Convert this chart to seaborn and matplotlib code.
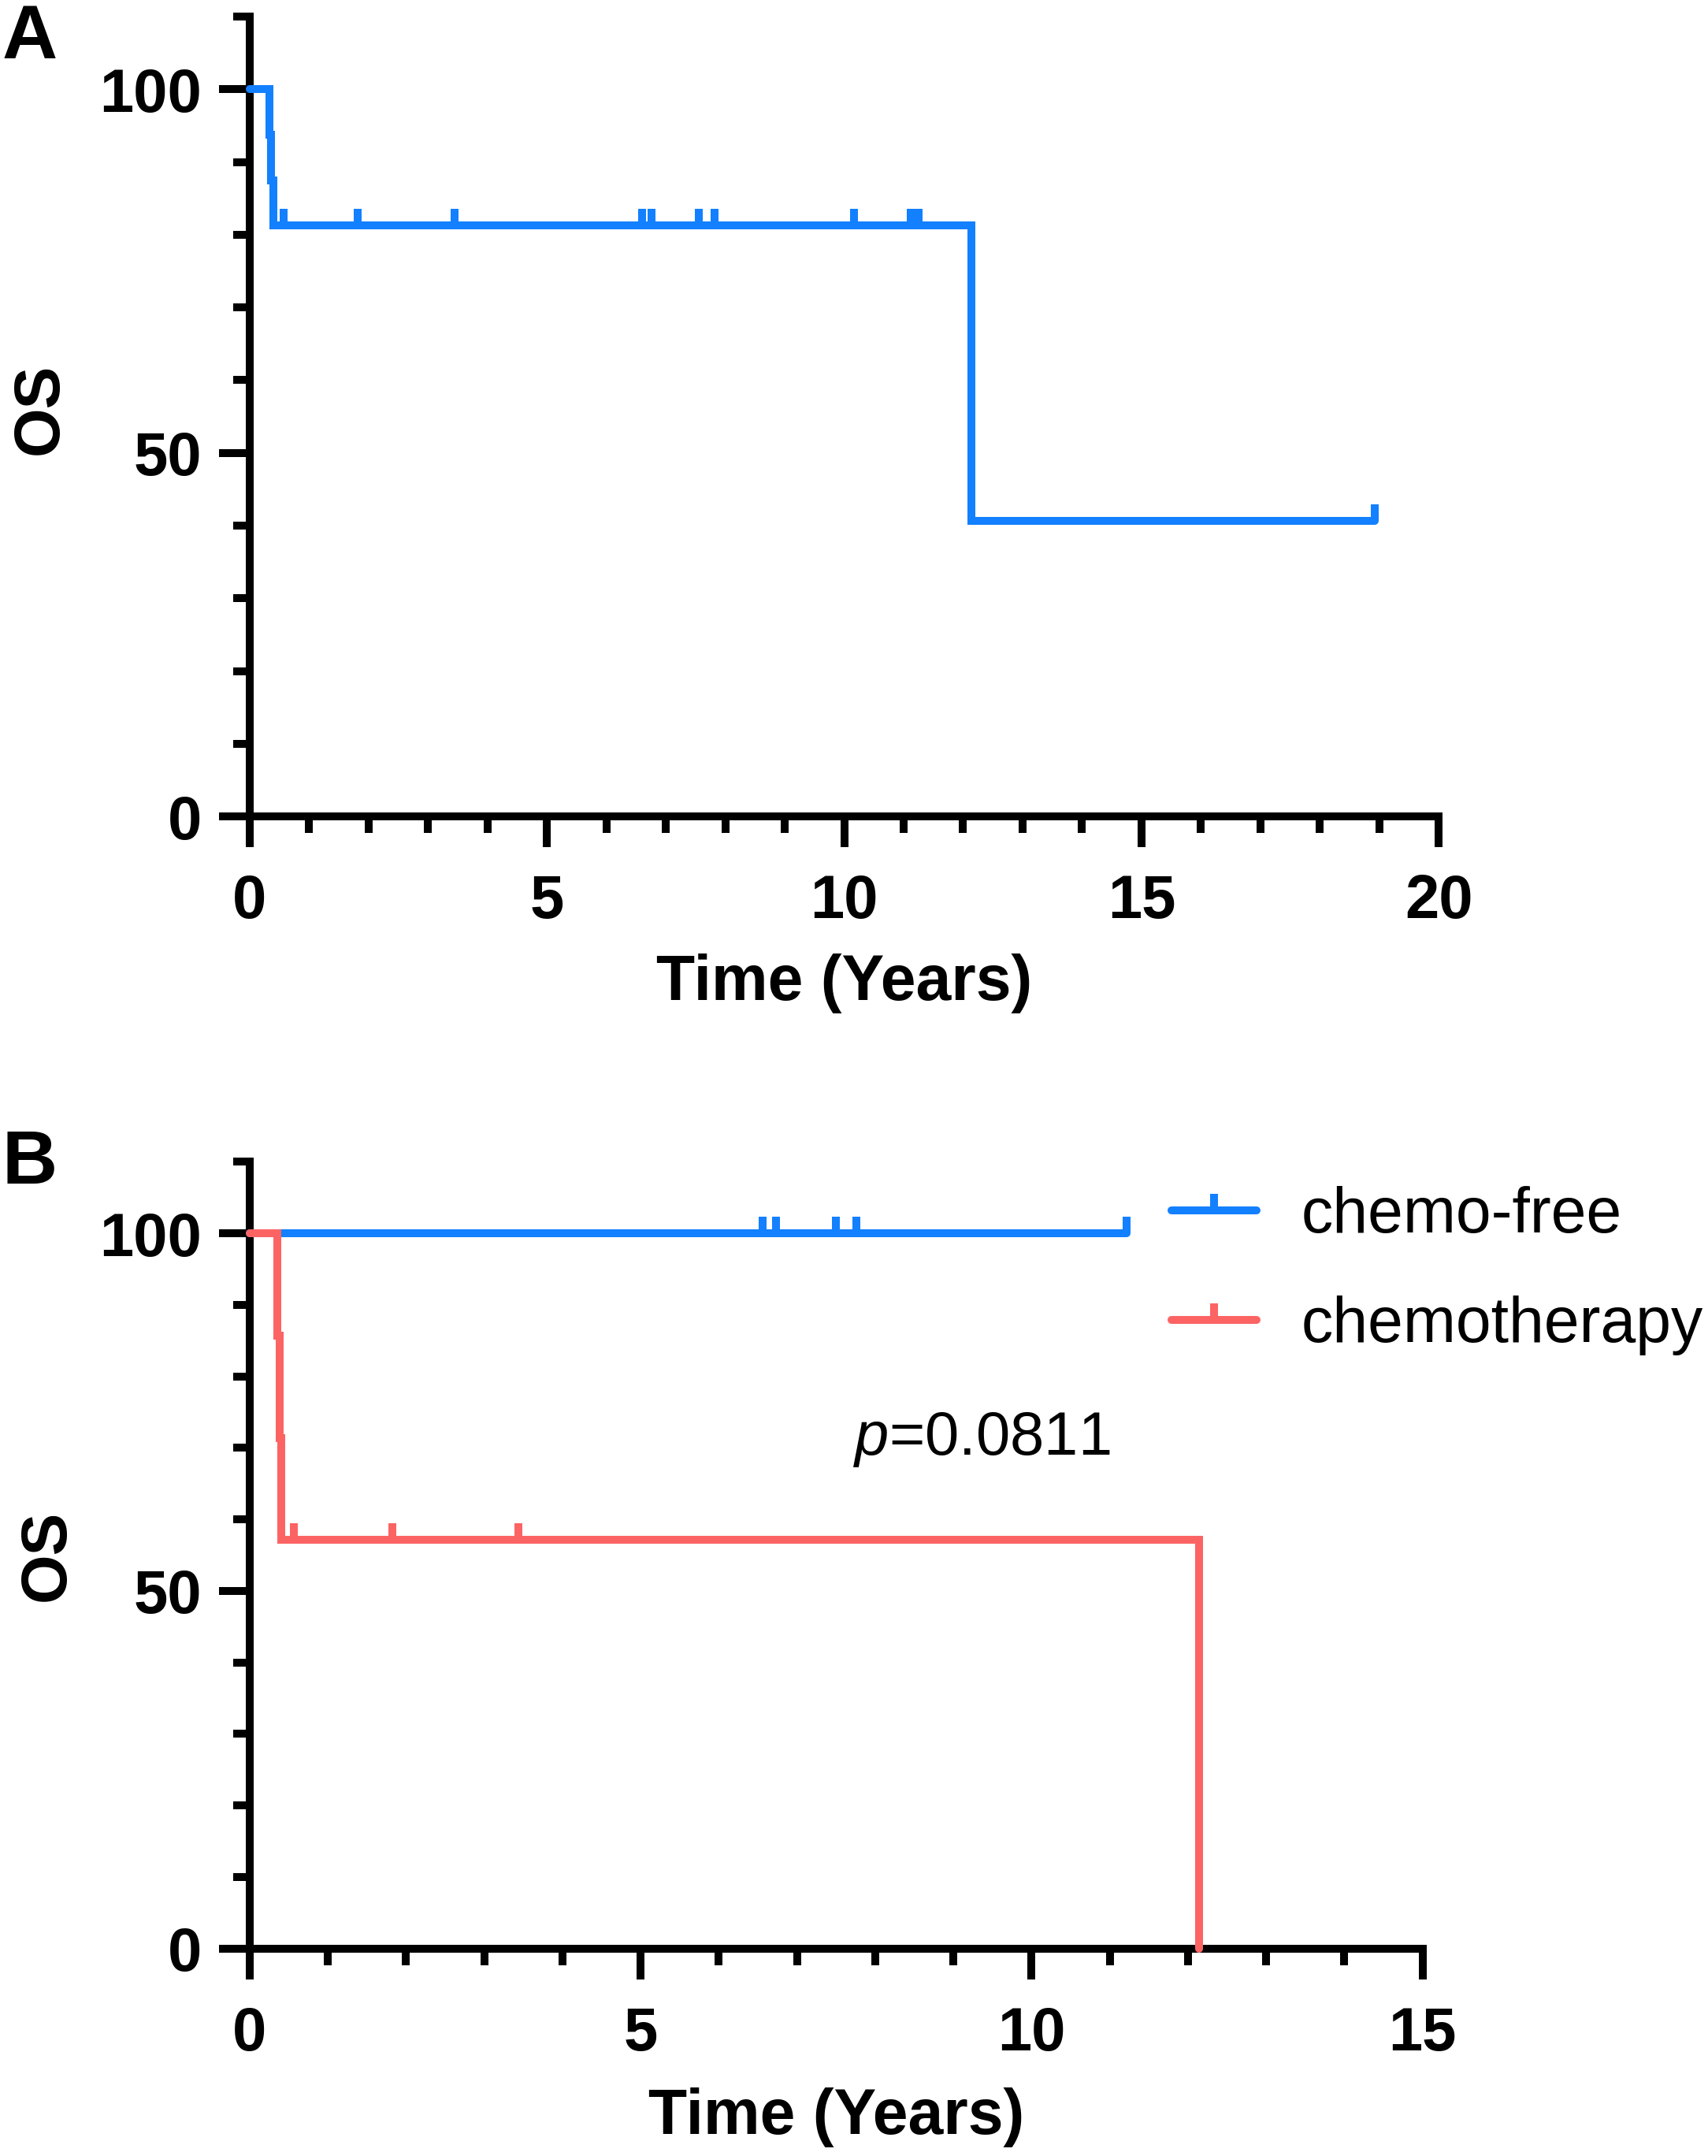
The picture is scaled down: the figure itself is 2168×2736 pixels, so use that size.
import numpy as np
import seaborn as sns
import matplotlib.pyplot as plt
from matplotlib.path import Path
from matplotlib.lines import Line2D
from matplotlib.ticker import MultipleLocator, FixedLocator

# Panel A: all patients (steps + censor marks)
a_step_x = [0, 0.33, 0.36, 0.40, 12.14, 18.92]
a_step_y = [100, 93.75, 87.5, 81.25, 40.6, 40.6]
a_cens_x = [0.57, 1.82, 3.44, 6.60, 6.76, 7.55, 7.82, 10.17, 11.12, 11.25, 18.92]
a_cens_y = [81.25, 81.25, 81.25, 81.25, 81.25, 81.25, 81.25, 81.25, 81.25, 81.25, 40.6]

# Panel B: chemo-free vs chemotherapy
free_step_x = [0, 11.22]
free_step_y = [100, 100]
free_cens_x = [6.56, 6.73, 7.50, 7.76, 11.22]
free_cens_y = [100, 100, 100, 100, 100]

chemo_step_x = [0, 0.35, 0.38, 0.40, 12.14]
chemo_step_y = [100, 85.7, 71.4, 57.1, 0]
chemo_cens_x = [0.56, 1.82, 3.44]
chemo_cens_y = [57.1, 57.1, 57.1]

groups = ["chemo-free", "chemotherapy"]
p_text = "$p$=0.0811"

BLUE = "#1380FF"
RED = "#FC6464"

sns.set_style("ticks")
plt.rcParams["font.family"] = ["Liberation Sans", "DejaVu Sans"]
plt.rcParams["mathtext.fontset"] = "custom"
plt.rcParams["mathtext.it"] = "Liberation Sans:italic"
plt.rcParams["mathtext.rm"] = "Liberation Sans"
for key in ["text.color", "axes.labelcolor", "xtick.color", "ytick.color", "axes.edgecolor"]:
    plt.rcParams[key] = "black"

FS = 28
LW = 3.6
SPINE = 3.6

# censor tick: vertical bar above the curve
tick = Path([(0, 0), (0, 1)], [Path.MOVETO, Path.LINETO])


def km_curve(ax, sx, sy, cx, cy, color):
    sns.lineplot(x=sx, y=sy, ax=ax, sort=False, estimator=None, color=color,
                 linewidth=LW, drawstyle="steps-post", solid_joinstyle="miter",
                 solid_capstyle="round", clip_on=False, zorder=3)
    sns.scatterplot(x=cx, y=cy, ax=ax, marker=tick, s=15 ** 2, color=color,
                    edgecolor=color, linewidth=LW, clip_on=False, zorder=3)


def style_axis(ax, xmax):
    ax.set_xlim(0, xmax)
    ax.set_ylim(0, 110)
    sns.despine(ax=ax)
    for s in ["left", "bottom"]:
        ax.spines[s].set_linewidth(SPINE)
        ax.spines[s].set_color("black")
    ax.xaxis.set_major_locator(MultipleLocator(5))
    ax.xaxis.set_minor_locator(MultipleLocator(1))
    ax.yaxis.set_major_locator(FixedLocator([0, 50, 100]))
    ax.yaxis.set_minor_locator(MultipleLocator(10))
    ax.tick_params(which="major", length=14, width=SPINE, color="black")
    ax.tick_params(which="minor", length=7.5, width=SPINE, color="black")
    ax.tick_params(axis="x", which="major", pad=12)
    ax.tick_params(axis="y", which="major", pad=8)
    for lab in ax.get_xticklabels() + ax.get_yticklabels():
        lab.set_fontsize(FS)
        lab.set_fontweight("bold")
        lab.set_color("black")
    ax.set_xlabel("Time (Years)", fontsize=FS + 1, fontweight="bold", va="center")
    ax.set_ylabel("OS", fontsize=FS + 1, fontweight="bold", va="center")


fig = plt.figure(figsize=(10.84, 13.68), dpi=200)
ax_a = fig.add_axes([0.1462, 0.6213, 0.6961, 0.3710])
ax_b = fig.add_axes([0.1462, 0.0963, 0.6866, 0.3648])

km_curve(ax_a, a_step_x, a_step_y, a_cens_x, a_cens_y, BLUE)
style_axis(ax_a, 20)
ax_a.xaxis.set_label_coords(0.5, -0.209)
ax_a.yaxis.set_label_coords(-0.176, 0.51)

km_curve(ax_b, free_step_x, free_step_y, free_cens_x, free_cens_y, BLUE)
km_curve(ax_b, chemo_step_x, chemo_step_y, chemo_cens_x, chemo_cens_y, RED)
style_axis(ax_b, 15)
ax_b.xaxis.set_label_coords(0.5, -0.215)
ax_b.yaxis.set_label_coords(-0.172, 0.5)

handles = [Line2D([], [], color=c, linewidth=LW, marker=tick, markersize=15,
                  markeredgewidth=LW, markeredgecolor=c, solid_capstyle="round")
           for c in [BLUE, RED]]
ax_b.legend(handles, groups, loc="center left", bbox_to_anchor=(0.6857, 0.4105),
            bbox_transform=fig.transFigure, frameon=False, fontsize=29,
            handlelength=1.35, handletextpad=0.7, labelspacing=0.78,
            borderpad=0, borderaxespad=0)

fig.text(0.575, 0.3325, p_text, fontsize=FS, ha="center", va="center")

fig.text(0.0175, 0.982, "A", fontsize=35, fontweight="bold", ha="center", va="center")
fig.text(0.0175, 0.4603, "B", fontsize=35, fontweight="bold", ha="center", va="center")

fig.savefig("out.png", dpi=200)
